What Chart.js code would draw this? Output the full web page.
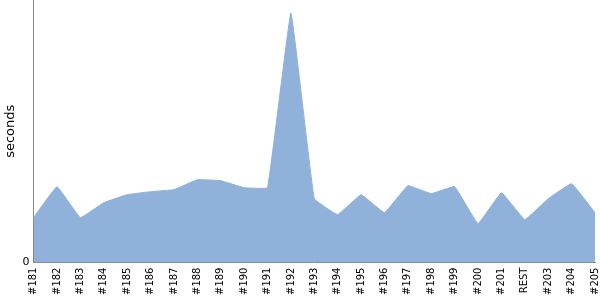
<!DOCTYPE html>
<html>
<head>
<meta charset="utf-8">
<script src="https://cdn.jsdelivr.net/npm/chart.js@4"></script>
<style>
  html, body { margin: 0; padding: 0; background: #fff; }
  #wrap { width: 600px; height: 300px; }
</style>
</head>
<body>
<div id="wrap"><canvas id="chart"></canvas></div>
<script>
const builds = ['#181', '#182', '#183', '#184', '#185', '#186', '#187', '#188', '#189', '#190',
  '#191', '#192', '#193', '#194', '#195', '#196', '#197', '#198', '#199', '#200',
  '#201', 'REST', '#203', '#204', '#205'];
const seconds = [45, 76, 45, 60, 68, 71, 73, 83, 82, 75,
  75, 250, 64, 48, 68, 50, 77, 69, 76, 39,
  70, 43, 64, 79, 50];
const yMax = 263;

Chart.defaults.font.family = 'DejaVu Sans';
Chart.defaults.font.size = 11;
Chart.defaults.color = '#000';

const chart = new Chart(document.getElementById('chart'), {
  type: 'line',
  data: {
    labels: builds,
    datasets: [{
      label: 'seconds',
      data: seconds,
      fill: 'origin',
      backgroundColor: '#8fb1da',
      borderColor: '#8fb1da',
      borderWidth: 1,
      pointRadius: 0,
      tension: 0.07
    }]
  },
  options: {
    responsive: true,
    maintainAspectRatio: false,
    animation: false,
    layout: { padding: { top: 0, right: 0, left: 0, bottom: 0 } },
    plugins: {
      legend: { display: false },
      tooltip: { enabled: false }
    },
    scales: {
      x: {
        grid: { display: false, drawTicks: false },
        border: { color: '#888', width: 1 },
        ticks: { minRotation: 90, maxRotation: 90, autoSkip: false, padding: 5, font: { size: 10 } },
        afterFit: s => { s.paddingRight = 5; s.paddingLeft = 0; }
      },
      y: {
        min: 0,
        max: yMax,
        grid: { display: false, drawTicks: false },
        border: { color: '#888', width: 1 },
        ticks: {
          stepSize: yMax,
          padding: 4,
          callback: v => v === 0 ? '0' : ''
        },
        title: { display: true, text: 'seconds', font: { size: 13 }, padding: { top: 3, bottom: 0 } },
        afterFit: s => { s.paddingTop = 0; s.paddingBottom = 0; }
      }
    }
  }
});
</script>
</body>
</html>
